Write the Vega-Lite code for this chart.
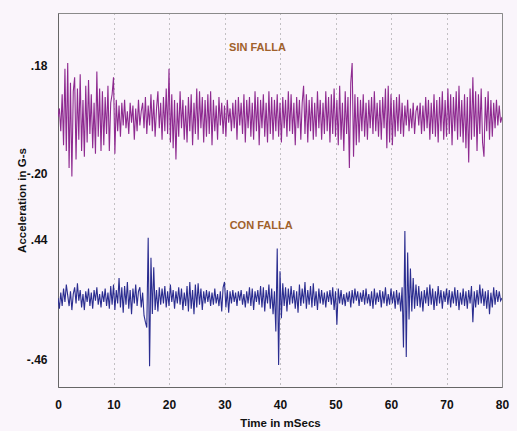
{
"$schema": "https://vega.github.io/schema/vega-lite/v6.json",
"width": 444, "height": 374,
"autosize": {"type": "none"},
"padding": {"left": 58, "top": 13, "right": 15, "bottom": 44},
"background": "#faf5fb",
"config": {
  "font": "Liberation Sans",
  "view": {"stroke": "#8a8a8a", "strokeWidth": 1, "fill": "#faf5fb"},
  "axis": {"labelFont": "Liberation Sans", "labelFontWeight": "bold", "labelFontSize": 12, "labelColor": "#111111",
           "titleFont": "Liberation Sans", "titleFontWeight": "bold", "titleFontSize": 11.5, "titleColor": "#111111",
           "ticks": false, "domainColor": "#666666"}
},
"datasets": {
"sig": [
{"t":0,"p":0.00,"b":0.00},{"t":0.25,"p":0.03,"b":-0.08},{"t":0.5,"p":-0.05,"b":0.04},{"t":0.75,"p":0.08,"b":-0.06},
{"t":1,"p":-0.10,"b":0.07},{"t":1.25,"p":0.17,"b":-0.03},{"t":1.5,"p":-0.12,"b":0.10},{"t":1.75,"p":0.19,"b":0.02},
{"t":2,"p":-0.18,"b":-0.06},{"t":2.25,"p":0.12,"b":0.05},{"t":2.5,"p":-0.21,"b":-0.09},{"t":2.75,"p":0.09,"b":0.03},
{"t":3,"p":0.14,"b":0.08},{"t":3.25,"p":-0.15,"b":-0.04},{"t":3.5,"p":0.10,"b":0.11},{"t":3.75,"p":-0.08,"b":-0.02},
{"t":4,"p":0.15,"b":0.06},{"t":4.25,"p":-0.12,"b":-0.07},{"t":4.5,"p":0.06,"b":0.03},{"t":4.75,"p":-0.14,"b":-0.09},
{"t":5,"p":0.11,"b":0.05},{"t":5.25,"p":-0.09,"b":-0.03},{"t":5.5,"p":0.13,"b":0.07},{"t":5.75,"p":-0.06,"b":-0.06},
{"t":6,"p":0.08,"b":0.04},{"t":6.25,"p":-0.11,"b":-0.08},{"t":6.5,"p":0.05,"b":0.06},{"t":6.75,"p":-0.13,"b":-0.02},
{"t":7,"p":0.16,"b":0.08},{"t":7.25,"p":-0.07,"b":-0.05},{"t":7.5,"p":0.10,"b":0.03},{"t":7.75,"p":-0.12,"b":-0.07},
{"t":8,"p":0.09,"b":0.05},{"t":8.25,"p":-0.10,"b":-0.03},{"t":8.5,"p":0.07,"b":0.07},{"t":8.75,"p":-0.06,"b":-0.06},
{"t":9,"p":0.11,"b":0.04},{"t":9.25,"p":-0.12,"b":-0.08},{"t":9.5,"p":0.05,"b":0.09},{"t":9.75,"p":0.08,"b":-0.05},
{"t":10,"p":0.14,"b":0.10},{"t":10.25,"p":-0.13,"b":-0.09},{"t":10.5,"p":0.06,"b":0.06},{"t":10.75,"p":-0.05,"b":-0.04},
{"t":11,"p":0.04,"b":0.15},{"t":11.25,"p":-0.07,"b":-0.07},{"t":11.5,"p":0.05,"b":0.08},{"t":11.75,"p":-0.03,"b":-0.11},
{"t":12,"p":0.06,"b":0.09},{"t":12.25,"p":-0.04,"b":-0.05},{"t":12.5,"p":0.02,"b":0.12},{"t":12.75,"p":-0.06,"b":-0.08},
{"t":13,"p":0.05,"b":0.06},{"t":13.25,"p":-0.02,"b":-0.12},{"t":13.5,"p":0.04,"b":0.07},{"t":13.75,"p":-0.08,"b":-0.04},
{"t":14,"p":0.03,"b":0.10},{"t":14.25,"p":-0.05,"b":-0.06},{"t":14.5,"p":0.06,"b":0.05},{"t":14.75,"p":-0.03,"b":0.08},
{"t":15,"p":0.02,"b":-0.07},{"t":15.25,"p":0.05,"b":0.04},{"t":15.5,"p":-0.04,"b":-0.13},{"t":15.75,"p":0.07,"b":-0.18},
{"t":16,"p":-0.06,"b":-0.22},{"t":16.25,"p":0.04,"b":0.45},{"t":16.5,"p":-0.03,"b":-0.51},{"t":16.75,"p":0.08,"b":0.30},
{"t":17,"p":-0.05,"b":-0.12},{"t":17.25,"p":0.06,"b":0.23},{"t":17.5,"p":-0.07,"b":-0.09},{"t":17.75,"p":0.03,"b":0.06},
{"t":18,"p":0.09,"b":-0.10},{"t":18.25,"p":-0.04,"b":0.08},{"t":18.5,"p":0.05,"b":-0.05},{"t":18.75,"p":-0.08,"b":0.07},
{"t":19,"p":0.07,"b":-0.04},{"t":19.25,"p":-0.05,"b":0.09},{"t":19.5,"p":0.10,"b":-0.07},{"t":19.75,"p":-0.06,"b":0.05},
{"t":20,"p":0.17,"b":-0.06},{"t":20.25,"p":-0.09,"b":0.10},{"t":20.5,"p":0.08,"b":-0.03},{"t":20.75,"p":-0.11,"b":0.06},
{"t":21,"p":0.06,"b":-0.08},{"t":21.25,"p":-0.15,"b":0.05},{"t":21.5,"p":0.05,"b":-0.04},{"t":21.75,"p":-0.07,"b":0.08},
{"t":22,"p":0.09,"b":-0.05},{"t":22.25,"p":-0.04,"b":0.07},{"t":22.5,"p":0.06,"b":-0.09},{"t":22.75,"p":-0.08,"b":0.04},
{"t":23,"p":0.04,"b":-0.06},{"t":23.25,"p":-0.09,"b":0.09},{"t":23.5,"p":0.07,"b":-0.10},{"t":23.75,"p":-0.05,"b":0.12},
{"t":24,"p":0.08,"b":-0.08},{"t":24.25,"p":-0.10,"b":0.06},{"t":24.5,"p":0.05,"b":-0.12},{"t":24.75,"p":-0.06,"b":0.10},
{"t":25,"p":0.10,"b":-0.07},{"t":25.25,"p":-0.08,"b":0.11},{"t":25.5,"p":0.09,"b":-0.05},{"t":25.75,"p":-0.04,"b":0.07},
{"t":26,"p":0.07,"b":-0.09},{"t":26.25,"p":-0.09,"b":0.05},{"t":26.5,"p":0.06,"b":-0.04},{"t":26.75,"p":-0.07,"b":0.06},
{"t":27,"p":0.08,"b":-0.03},{"t":27.25,"p":-0.06,"b":0.05},{"t":27.5,"p":0.09,"b":-0.06},{"t":27.75,"p":-0.10,"b":0.04},
{"t":28,"p":0.06,"b":-0.05},{"t":28.25,"p":-0.05,"b":0.07},{"t":28.5,"p":0.04,"b":-0.04},{"t":28.75,"p":-0.08,"b":0.03},
{"t":29,"p":0.07,"b":-0.06},{"t":29.25,"p":-0.03,"b":0.05},{"t":29.5,"p":0.05,"b":-0.10},{"t":29.75,"p":-0.06,"b":0.08},
{"t":30,"p":0.04,"b":0.12},{"t":30.25,"p":-0.07,"b":-0.07},{"t":30.5,"p":0.06,"b":0.06},{"t":30.75,"p":-0.02,"b":-0.11},
{"t":31,"p":0.03,"b":0.05},{"t":31.25,"p":-0.05,"b":-0.04},{"t":31.5,"p":0.05,"b":0.06},{"t":31.75,"p":-0.04,"b":-0.03},
{"t":32,"p":0.06,"b":0.04},{"t":32.25,"p":-0.08,"b":-0.06},{"t":32.5,"p":0.07,"b":0.05},{"t":32.75,"p":-0.03,"b":-0.02},
{"t":33,"p":0.05,"b":0.06},{"t":33.25,"p":-0.06,"b":-0.05},{"t":33.5,"p":0.08,"b":0.03},{"t":33.75,"p":-0.09,"b":-0.07},
{"t":34,"p":0.06,"b":0.05},{"t":34.25,"p":-0.04,"b":-0.04},{"t":34.5,"p":0.07,"b":0.08},{"t":34.75,"p":-0.07,"b":-0.06},
{"t":35,"p":0.05,"b":0.07},{"t":35.25,"p":-0.08,"b":-0.09},{"t":35.5,"p":0.09,"b":0.05},{"t":35.75,"p":-0.05,"b":-0.03},
{"t":36,"p":0.07,"b":0.06},{"t":36.25,"p":-0.10,"b":-0.05},{"t":36.5,"p":0.06,"b":0.09},{"t":36.75,"p":-0.04,"b":-0.07},
{"t":37,"p":0.08,"b":0.08},{"t":37.25,"p":-0.07,"b":-0.10},{"t":37.5,"p":0.05,"b":0.06},{"t":37.75,"p":-0.09,"b":-0.04},
{"t":38,"p":0.09,"b":0.10},{"t":38.25,"p":-0.06,"b":-0.08},{"t":38.5,"p":0.07,"b":0.07},{"t":38.75,"p":-0.08,"b":-0.12},
{"t":39,"p":0.06,"b":0.05},{"t":39.25,"p":-0.05,"b":-0.25},{"t":39.5,"p":0.08,"b":0.37},{"t":39.75,"p":-0.07,"b":-0.50},
{"t":40,"p":0.05,"b":0.20},{"t":40.25,"p":-0.09,"b":-0.15},{"t":40.5,"p":0.07,"b":0.11},{"t":40.75,"p":-0.04,"b":-0.06},
{"t":41,"p":0.06,"b":0.08},{"t":41.25,"p":-0.07,"b":-0.10},{"t":41.5,"p":0.09,"b":0.07},{"t":41.75,"p":-0.05,"b":-0.05},
{"t":42,"p":0.08,"b":0.09},{"t":42.25,"p":-0.06,"b":-0.04},{"t":42.5,"p":0.05,"b":0.06},{"t":42.75,"p":-0.10,"b":-0.08},
{"t":43,"p":0.07,"b":0.05},{"t":43.25,"p":-0.04,"b":-0.11},{"t":43.5,"p":0.06,"b":0.10},{"t":43.75,"p":-0.08,"b":-0.06},
{"t":44,"p":0.05,"b":0.07},{"t":44.25,"p":0.11,"b":-0.04},{"t":44.5,"p":-0.06,"b":0.12},{"t":44.75,"p":0.08,"b":-0.08},
{"t":45,"p":-0.09,"b":0.06},{"t":45.25,"p":0.06,"b":-0.05},{"t":45.5,"p":-0.05,"b":0.09},{"t":45.75,"p":0.07,"b":-0.07},
{"t":46,"p":-0.08,"b":0.11},{"t":46.25,"p":0.05,"b":-0.06},{"t":46.5,"p":-0.07,"b":0.05},{"t":46.75,"p":0.09,"b":-0.09},
{"t":47,"p":-0.04,"b":0.07},{"t":47.25,"p":0.06,"b":-0.04},{"t":47.5,"p":-0.08,"b":0.06},{"t":47.75,"p":0.05,"b":-0.05},
{"t":48,"p":-0.06,"b":0.04},{"t":48.25,"p":0.09,"b":-0.07},{"t":48.5,"p":-0.05,"b":0.05},{"t":48.75,"p":0.07,"b":-0.03},
{"t":49,"p":-0.09,"b":0.06},{"t":49.25,"p":0.08,"b":-0.05},{"t":49.5,"p":-0.06,"b":0.08},{"t":49.75,"p":0.10,"b":-0.09},
{"t":50,"p":-0.07,"b":0.05},{"t":50.25,"p":0.06,"b":-0.20},{"t":50.5,"p":-0.10,"b":0.07},{"t":50.75,"p":0.11,"b":-0.04},
{"t":51,"p":-0.08,"b":0.06},{"t":51.25,"p":0.05,"b":-0.05},{"t":51.5,"p":-0.12,"b":0.03},{"t":51.75,"p":0.09,"b":-0.06},
{"t":52,"p":-0.06,"b":0.04},{"t":52.25,"p":0.07,"b":-0.03},{"t":52.5,"p":-0.18,"b":0.05},{"t":52.75,"p":0.12,"b":-0.07},
{"t":53,"p":0.19,"b":0.06},{"t":53.25,"p":-0.14,"b":-0.04},{"t":53.5,"p":0.08,"b":0.07},{"t":53.75,"p":-0.10,"b":-0.02},
{"t":54,"p":0.07,"b":0.05},{"t":54.25,"p":-0.09,"b":-0.06},{"t":54.5,"p":0.06,"b":0.04},{"t":54.75,"p":-0.05,"b":-0.03},
{"t":55,"p":0.08,"b":0.06},{"t":55.25,"p":-0.07,"b":-0.05},{"t":55.5,"p":0.05,"b":0.07},{"t":55.75,"p":-0.08,"b":-0.04},
{"t":56,"p":0.06,"b":0.03},{"t":56.25,"p":-0.04,"b":-0.06},{"t":56.5,"p":0.07,"b":0.05},{"t":56.75,"p":-0.06,"b":-0.08},
{"t":57,"p":0.09,"b":0.07},{"t":57.25,"p":-0.05,"b":-0.05},{"t":57.5,"p":0.05,"b":0.04},{"t":57.75,"p":-0.07,"b":-0.03},
{"t":58,"p":0.06,"b":0.06},{"t":58.25,"p":-0.08,"b":-0.07},{"t":58.5,"p":0.07,"b":0.05},{"t":58.75,"p":-0.04,"b":-0.04},
{"t":59,"p":0.10,"b":0.08},{"t":59.25,"p":-0.11,"b":-0.06},{"t":59.5,"p":0.11,"b":0.03},{"t":59.75,"p":-0.09,"b":-0.05},
{"t":60,"p":0.08,"b":0.07},{"t":60.25,"p":-0.10,"b":-0.04},{"t":60.5,"p":0.06,"b":0.05},{"t":60.75,"p":-0.07,"b":-0.08},
{"t":61,"p":0.07,"b":0.06},{"t":61.25,"p":-0.05,"b":-0.05},{"t":61.5,"p":0.08,"b":0.04},{"t":61.75,"p":-0.06,"b":-0.10},
{"t":62,"p":0.05,"b":0.08},{"t":62.25,"p":-0.07,"b":-0.37},{"t":62.5,"p":0.04,"b":0.50},{"t":62.75,"p":-0.03,"b":-0.44},
{"t":63,"p":0.06,"b":0.34},{"t":63.25,"p":-0.05,"b":-0.16},{"t":63.5,"p":0.03,"b":0.22},{"t":63.75,"p":-0.04,"b":-0.10},
{"t":64,"p":0.05,"b":0.15},{"t":64.25,"p":-0.06,"b":-0.08},{"t":64.5,"p":0.02,"b":0.10},{"t":64.75,"p":0.04,"b":-0.06},
{"t":65,"p":-0.03,"b":0.09},{"t":65.25,"p":0.05,"b":-0.07},{"t":65.5,"p":-0.06,"b":0.05},{"t":65.75,"p":0.04,"b":-0.10},
{"t":66,"p":-0.05,"b":0.06},{"t":66.25,"p":0.07,"b":-0.04},{"t":66.5,"p":-0.04,"b":0.08},{"t":66.75,"p":0.06,"b":-0.06},
{"t":67,"p":-0.08,"b":0.10},{"t":67.25,"p":0.05,"b":-0.05},{"t":67.5,"p":-0.06,"b":0.07},{"t":67.75,"p":0.08,"b":-0.09},
{"t":68,"p":-0.07,"b":0.05},{"t":68.25,"p":0.06,"b":-0.06},{"t":68.5,"p":-0.09,"b":0.09},{"t":68.75,"p":0.07,"b":-0.04},
{"t":69,"p":-0.05,"b":0.06},{"t":69.25,"p":0.09,"b":-0.08},{"t":69.5,"p":-0.08,"b":0.05},{"t":69.75,"p":0.06,"b":-0.03},
{"t":70,"p":-0.07,"b":0.07},{"t":70.25,"p":0.10,"b":-0.05},{"t":70.5,"p":-0.06,"b":0.06},{"t":70.75,"p":0.08,"b":-0.07},
{"t":71,"p":-0.10,"b":0.05},{"t":71.25,"p":0.07,"b":-0.04},{"t":71.5,"p":-0.05,"b":0.08},{"t":71.75,"p":0.09,"b":-0.06},
{"t":72,"p":-0.08,"b":0.06},{"t":72.25,"p":0.11,"b":-0.09},{"t":72.5,"p":-0.07,"b":0.04},{"t":72.75,"p":0.06,"b":-0.05},
{"t":73,"p":-0.09,"b":0.07},{"t":73.25,"p":0.08,"b":-0.06},{"t":73.5,"p":-0.11,"b":0.05},{"t":73.75,"p":0.07,"b":-0.08},
{"t":74,"p":-0.16,"b":0.06},{"t":74.25,"p":0.10,"b":-0.04},{"t":74.5,"p":-0.08,"b":0.09},{"t":74.75,"p":0.14,"b":-0.18},
{"t":75,"p":-0.07,"b":0.05},{"t":75.25,"p":0.09,"b":-0.07},{"t":75.5,"p":-0.12,"b":0.06},{"t":75.75,"p":0.08,"b":-0.05},
{"t":76,"p":-0.06,"b":0.10},{"t":76.25,"p":0.10,"b":-0.04},{"t":76.5,"p":-0.09,"b":0.07},{"t":76.75,"p":-0.14,"b":-0.06},
{"t":77,"p":0.07,"b":0.05},{"t":77.25,"p":-0.05,"b":-0.08},{"t":77.5,"p":0.09,"b":0.06},{"t":77.75,"p":-0.08,"b":-0.12},
{"t":78,"p":0.06,"b":0.04},{"t":78.25,"p":-0.07,"b":-0.07},{"t":78.5,"p":0.05,"b":0.08},{"t":78.75,"p":-0.04,"b":-0.05},
{"t":79,"p":0.06,"b":0.06},{"t":79.25,"p":-0.03,"b":-0.03},{"t":79.5,"p":0.04,"b":0.05},{"t":79.75,"p":-0.02,"b":-0.02},
{"t":80,"p":0.00,"b":0.00}
]
},
"encoding": {
  "x": {"field": "t", "type": "quantitative", "scale": {"domain": [0, 80], "nice": false},
        "axis": {"values": [0,10,20,30,40,50,60,70,80], "grid": true, "gridColor": "#8a8a8a", "gridDash": [1,4], "gridWidth": 1,
                 "labelPadding": 12, "labelFlush": false, "title": "Time in mSecs", "titlePadding": 7}}
},
"layer": [
  {
    "layer": [
      {
        "data": {"name": "sig"},
        "mark": {"type": "line", "color": "#8e2a90", "strokeWidth": 1.1, "clip": true},
        "encoding": {
          "y": {"field": "p", "type": "quantitative", "scale": {"domain": [-0.951, 0.366], "nice": false, "zero": false},
                "axis": {"orient": "left", "values": [0.18, -0.2], "labelExpr": "datum.value > 0 ? '.18' : '-.20'", "grid": false,
                         "labelPadding": 11, "title": "Acceleration in G-s", "titleX": -36, "titleY": 187, "titleBaseline": "middle", "titleAngle": -90}}
        }
      },
      {
        "data": {"values": [{"t": 35.95, "v": 0.244, "s": "SIN FALLA"}]},
        "mark": {"type": "text", "color": "#a0612b", "fontWeight": "bold", "fontSize": 11, "font": "Liberation Sans", "baseline": "middle"},
        "encoding": {
          "y": {"field": "v", "type": "quantitative"},
          "text": {"field": "s"}
        }
      }
    ]
  },
  {
    "layer": [
      {
        "data": {"name": "sig"},
        "mark": {"type": "line", "color": "#2b2d90", "strokeWidth": 1.1, "clip": true},
        "encoding": {
          "y": {"field": "b", "type": "quantitative", "scale": {"domain": [-0.664, 2.127], "nice": false, "zero": false},
                "axis": {"orient": "left", "values": [0.44, -0.46], "labelExpr": "datum.value > 0 ? '.44' : '-.46'", "grid": false,
                         "labelPadding": 11, "title": null, "domain": false}}
        }
      },
      {
        "data": {"values": [{"t": 36.6, "v": 0.54, "s": "CON FALLA"}]},
        "mark": {"type": "text", "color": "#a0612b", "fontWeight": "bold", "fontSize": 11, "font": "Liberation Sans", "baseline": "middle"},
        "encoding": {
          "y": {"field": "v", "type": "quantitative"},
          "text": {"field": "s"}
        }
      }
    ]
  }
],
"resolve": {"scale": {"y": "independent"}, "axis": {"y": "independent"}}
}
